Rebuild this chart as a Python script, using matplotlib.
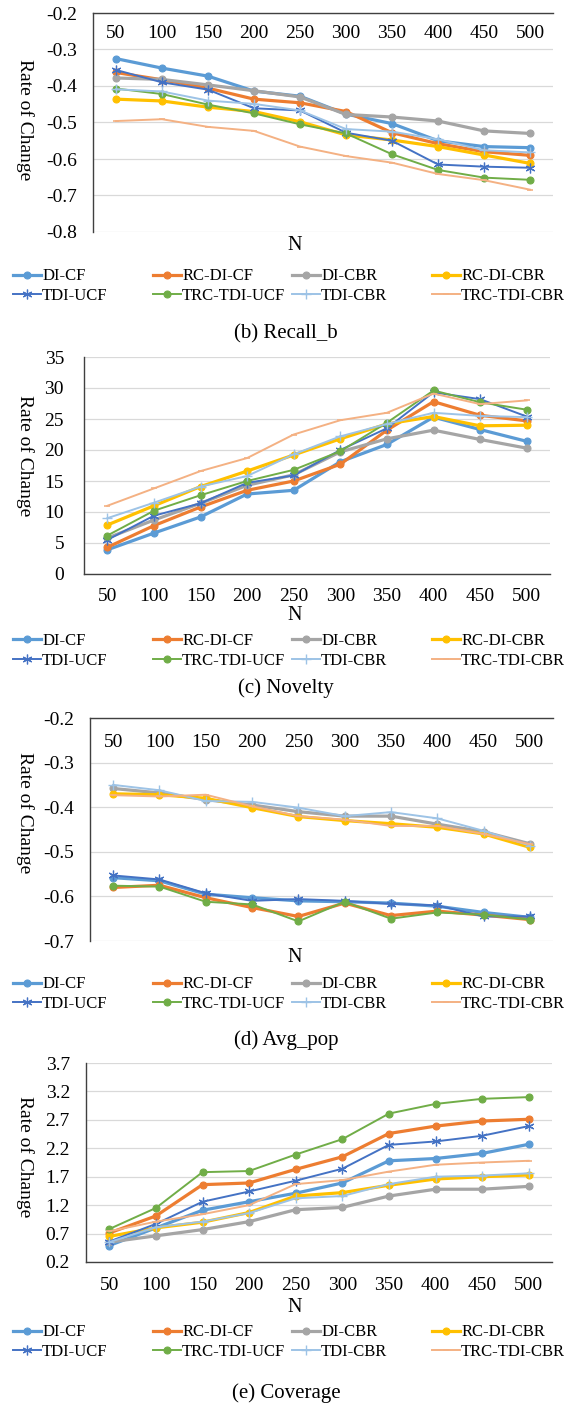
import numpy as np
import matplotlib
matplotlib.use("Agg")
import matplotlib.pyplot as plt

plt.rcParams["font.family"] = ["Liberation Serif", "DejaVu Serif"]
plt.rcParams["axes.unicode_minus"] = False

n_values = [50, 100, 150, 200, 250, 300, 350, 400, 450, 500]
series_names = ["DI-CF", "RC-DI-CF", "DI-CBR", "RC-DI-CBR",
                "TDI-UCF", "TRC-TDI-UCF", "TDI-CBR", "TRC-TDI-CBR"]

recall_b = {
    "DI-CF": [-0.325, -0.351, -0.373, -0.414, -0.428, -0.477, -0.503, -0.550, -0.566, -0.569],
    "RC-DI-CF": [-0.363, -0.383, -0.406, -0.436, -0.446, -0.470, -0.528, -0.558, -0.580, -0.590],
    "DI-CBR": [-0.378, -0.382, -0.397, -0.413, -0.430, -0.478, -0.485, -0.496, -0.523, -0.530],
    "RC-DI-CBR": [-0.436, -0.441, -0.458, -0.470, -0.498, -0.534, -0.548, -0.566, -0.589, -0.612],
    "TDI-UCF": [-0.356, -0.390, -0.410, -0.461, -0.467, -0.528, -0.550, -0.615, -0.621, -0.624],
    "TRC-TDI-UCF": [-0.407, -0.422, -0.451, -0.475, -0.505, -0.530, -0.587, -0.630, -0.651, -0.657],
    "TDI-CBR": [-0.409, -0.415, -0.440, -0.449, -0.467, -0.518, -0.525, -0.546, -0.576, -0.582],
    "TRC-TDI-CBR": [-0.496, -0.491, -0.512, -0.523, -0.566, -0.592, -0.610, -0.641, -0.658, -0.684],
}

novelty = {
    "DI-CF": [3.9, 6.6, 9.2, 12.9, 13.5, 18.1, 20.9, 25.3, 23.3, 21.4],
    "RC-DI-CF": [4.3, 7.8, 10.8, 13.5, 15.0, 17.7, 23.2, 27.8, 25.6, 24.7],
    "DI-CBR": [5.8, 8.7, 11.4, 14.3, 16.0, 19.7, 21.8, 23.2, 21.7, 20.3],
    "RC-DI-CBR": [7.9, 11.0, 14.1, 16.6, 19.2, 21.8, 24.2, 25.4, 23.9, 24.0],
    "TDI-UCF": [5.5, 9.4, 11.4, 14.7, 15.9, 20.0, 23.5, 29.3, 28.2, 25.4],
    "TRC-TDI-UCF": [6.2, 10.2, 12.7, 15.0, 16.8, 19.8, 24.4, 29.6, 27.7, 26.5],
    "TDI-CBR": [9.0, 11.5, 14.1, 15.8, 19.3, 22.2, 24.2, 26.0, 25.5, 25.3],
    "TRC-TDI-CBR": [11.0, 13.8, 16.6, 18.7, 22.5, 24.8, 26.0, 29.1, 27.4, 28.0],
}

avg_pop = {
    "DI-CF": [-0.558, -0.565, -0.595, -0.603, -0.610, -0.612, -0.615, -0.622, -0.636, -0.647],
    "RC-DI-CF": [-0.580, -0.575, -0.603, -0.625, -0.645, -0.615, -0.643, -0.633, -0.642, -0.652],
    "DI-CBR": [-0.358, -0.368, -0.383, -0.395, -0.410, -0.420, -0.420, -0.438, -0.455, -0.482],
    "RC-DI-CBR": [-0.370, -0.372, -0.380, -0.401, -0.421, -0.430, -0.437, -0.445, -0.460, -0.490],
    "TDI-UCF": [-0.553, -0.562, -0.593, -0.610, -0.606, -0.610, -0.617, -0.620, -0.645, -0.645],
    "TRC-TDI-UCF": [-0.576, -0.578, -0.612, -0.618, -0.656, -0.612, -0.650, -0.636, -0.641, -0.652],
    "TDI-CBR": [-0.350, -0.362, -0.386, -0.388, -0.401, -0.420, -0.411, -0.425, -0.453, -0.486],
    "TRC-TDI-CBR": [-0.373, -0.376, -0.372, -0.398, -0.420, -0.428, -0.442, -0.442, -0.460, -0.483],
}

coverage = {
    "DI-CF": [0.49, 0.80, 1.11, 1.26, 1.41, 1.59, 1.98, 2.02, 2.11, 2.27],
    "RC-DI-CF": [0.71, 1.01, 1.56, 1.59, 1.83, 2.05, 2.46, 2.59, 2.68, 2.71],
    "DI-CBR": [0.55, 0.66, 0.77, 0.91, 1.12, 1.16, 1.36, 1.48, 1.48, 1.53],
    "RC-DI-CBR": [0.65, 0.80, 0.90, 1.07, 1.36, 1.42, 1.55, 1.66, 1.70, 1.73],
    "TDI-UCF": [0.56, 0.87, 1.26, 1.44, 1.63, 1.84, 2.26, 2.32, 2.42, 2.59],
    "TRC-TDI-UCF": [0.78, 1.15, 1.78, 1.80, 2.09, 2.36, 2.81, 2.98, 3.07, 3.10],
    "TDI-CBR": [0.55, 0.81, 0.91, 1.06, 1.32, 1.36, 1.57, 1.70, 1.72, 1.76],
    "TRC-TDI-CBR": [0.74, 0.91, 1.04, 1.20, 1.57, 1.64, 1.79, 1.91, 1.95, 1.98],
}

# line style per series: colour, width, marker, marker size, marker edge width
STYLES = {
    "DI-CF": ("#5B9BD5", 2.3, "o", 5, 0.8),
    "RC-DI-CF": ("#ED7D31", 2.3, "o", 5, 0.8),
    "DI-CBR": ("#A5A5A5", 2.3, "o", 5, 0.8),
    "RC-DI-CBR": ("#FFC000", 2.3, "o", 5, 0.8),
    "TDI-UCF": ("#4472C4", 1.4, (6, 2, 0), 7, 0.9),
    "TRC-TDI-UCF": ("#70AD47", 1.4, "o", 5, 0.8),
    "TDI-CBR": ("#9DC3E6", 1.4, "+", 7, 1.0),
    "TRC-TDI-CBR": ("#F4B183", 1.4, "_", 4, 1.2),
}

W, H, DPI = 572, 1407, 100


def fx(px):
    return px / W


def fy(py):
    return 1 - py / H


# pixel layout of each panel
PANELS = [
    dict(data=recall_b, ylim=(-0.8, -0.2), step=0.1, fmt="{:.1f}",
         box=(93, 13, 553, 232), xpos="top", xoff=21, ypad=16,
         n_y=245, ylab_y=120, leg_y=286, title="(b) Recall_b", title_y=334),
    dict(data=novelty, ylim=(0, 35), step=5, fmt="{:.0f}",
         box=(84, 357, 550, 574), xpos="bottom", xoff=23, ypad=20,
         n_y=615, ylab_y=456, leg_y=651, title="(c) Novelty", title_y=688),
    dict(data=avg_pop, ylim=(-0.7, -0.2), step=0.1, fmt="{:.1f}",
         box=(90, 718, 553, 941), xpos="top", xoff=24, ypad=16,
         n_y=958, ylab_y=813, leg_y=994, title="(d) Avg_pop", title_y=1040),
    dict(data=coverage, ylim=(0.2, 3.7), step=0.5, fmt="{:.1f}",
         box=(86, 1063, 552, 1262), xpos="bottom", xoff=23, ypad=16,
         n_y=1307, ylab_y=1157, leg_y=1342, title="(e) Coverage", title_y=1393),
]

LEGEND_X = [13, 153, 292, 432]
TICK_FS = 14
LEG_FS = 12

fig = plt.figure(figsize=(W / DPI, H / DPI), dpi=DPI)

for p in PANELS:
    left, top, right, bottom = p["box"]
    ax = fig.add_axes([fx(left), fy(bottom), (right - left) / W, (bottom - top) / H])

    handles = []
    for name in series_names:
        color, lw, marker, ms, mew = STYLES[name]
        (line,) = ax.plot(n_values, p["data"][name], color=color, lw=lw,
                          marker=marker, ms=ms, mew=mew, label=name)
        handles.append(line)

    lo, hi = p["ylim"]
    yticks = np.round(np.arange(lo, hi + p["step"] / 2, p["step"]), 3)
    ax.set_ylim(lo, hi)
    ax.set_yticks(yticks)
    ax.set_yticklabels([p["fmt"].format(v) for v in yticks])
    ax.set_xlim(25, 525)
    ax.set_xticks(n_values)
    ax.set_xticklabels([str(v) for v in n_values])

    ax.yaxis.grid(True, color="#D9D9D9", lw=0.9)
    ax.set_axisbelow(True)
    ax.tick_params(axis="y", length=0, pad=p["ypad"] * 72 / DPI, labelsize=TICK_FS)
    for s in ax.spines.values():
        s.set_visible(False)
    ax.spines["left"].set_visible(True)
    ax.spines["left"].set_color("#404040")
    ax.spines["left"].set_linewidth(1.0)

    if p["xpos"] == "top":
        ax.xaxis.set_ticks_position("top")
        ax.tick_params(axis="x", length=0, labeltop=True, labelbottom=False,
                       pad=-p["xoff"] * 72 / DPI, labelsize=TICK_FS)
        ax.spines["top"].set_visible(True)
        ax.spines["top"].set_color("#404040")
        ax.spines["top"].set_linewidth(1.0)
    else:
        ax.tick_params(axis="x", length=0, pad=p["xoff"] * 72 / DPI, labelsize=TICK_FS)
        ax.spines["bottom"].set_visible(True)
        ax.spines["bottom"].set_color("#404040")
        ax.spines["bottom"].set_linewidth(1.0)
    for lbl in ax.get_xticklabels():
        lbl.set_va("center")

    fig.text(fx(295), fy(p["n_y"]), "N", ha="center", va="center", fontsize=14.5)
    fig.text(fx(25), fy(p["ylab_y"]), "Rate of Change", rotation=270,
             ha="center", va="center", fontsize=14)
    fig.text(fx(286), fy(p["title_y"]), p["title"], ha="center", va="center", fontsize=15)

    for col, x0 in enumerate(LEGEND_X):
        fig.legend(handles=[handles[col], handles[col + 4]],
                   loc="center left", bbox_to_anchor=(fx(x0), fy(p["leg_y"])),
                   frameon=False, fontsize=LEG_FS, borderpad=0, borderaxespad=0,
                   handlelength=1.65, handletextpad=0.1, labelspacing=0.2)

fig.savefig("out.png", dpi=DPI)
